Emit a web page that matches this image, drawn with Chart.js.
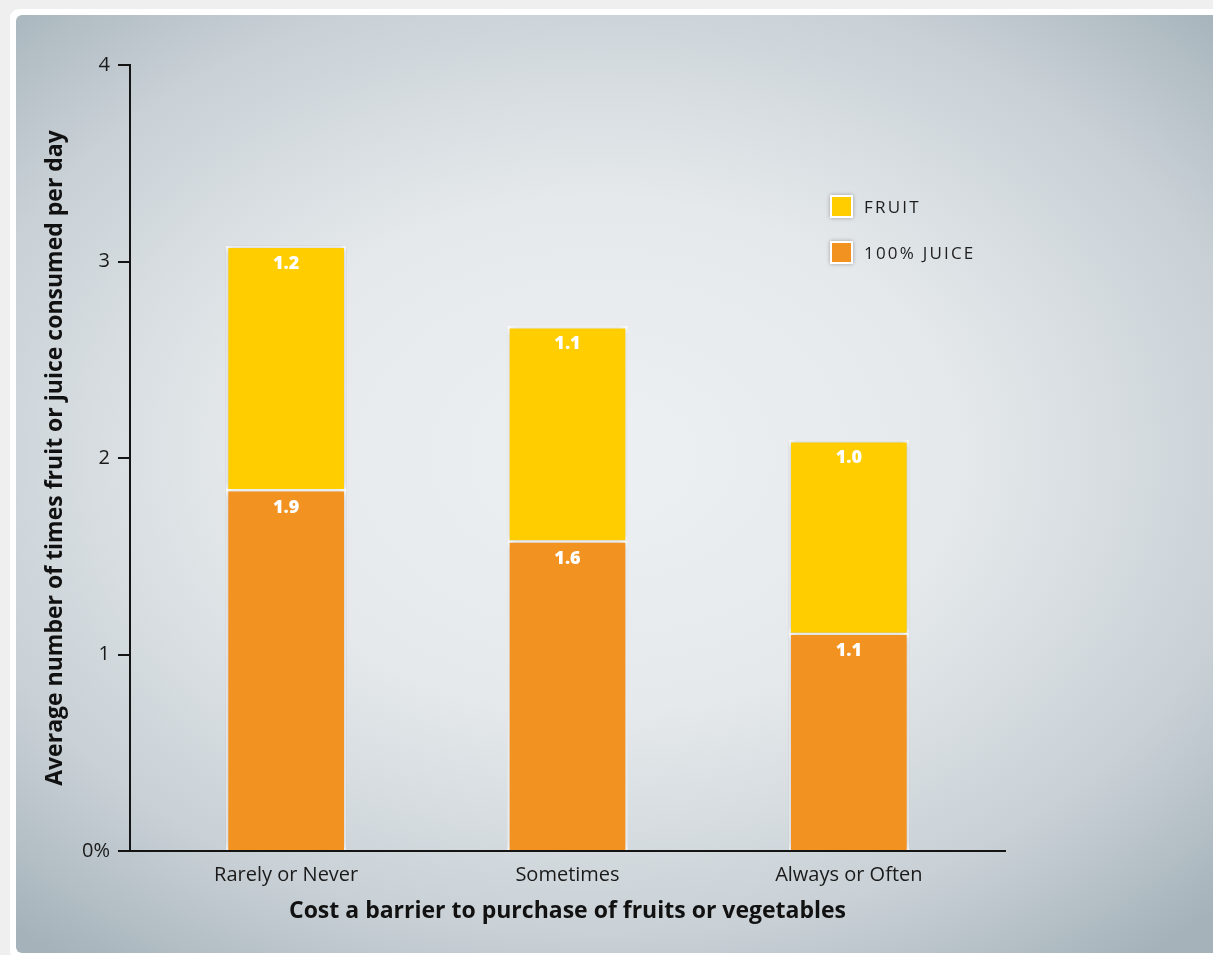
<!DOCTYPE html>
<html>
<head>
<meta charset="utf-8">
<script src="https://cdn.jsdelivr.net/npm/chart.js@4/dist/chart.umd.min.js"></script>
<style>
  html, body { margin: 0; padding: 0; }
  body { width: 1213px; height: 955px; overflow: hidden; background: #efefef; position: relative; font-family: "Open Sans", sans-serif; }
  #frame { position: absolute; left: 10px; top: 9px; width: 1230px; height: 951px; background: #fff; border-radius: 9px; }
  #panel {
    position: absolute; left: 16px; top: 15px; width: 1220px; height: 938px; border-radius: 6px;
    background: radial-gradient(ellipse 72% 68% at 48% 47%, #edf0f2 0%, #e5e9ec 40%, #c9d1d6 75%, #a5b2ba 100%);
  }
  #chartWrap { position: absolute; left: 0; top: 0; width: 1213px; height: 955px; }
  .legend { position: absolute; left: 830px; font-size: 17px; letter-spacing: 2.2px; color: #1e1e1e; display: flex; align-items: center; }
  .legend span.box { width: 19px; height: 19px; border: 2px solid #fff; box-shadow: 0 0 4px rgba(0,0,0,0.3); margin-right: 11px; }
</style>
</head>
<body>
<div id="frame"></div>
<div id="panel"></div>
<div id="chartWrap"><canvas id="chart" width="1213" height="955"></canvas></div>
<div class="legend" style="top:195px"><span class="box" style="background:#ffcd00"></span>FRUIT</div>
<div class="legend" style="top:241px"><span class="box" style="background:#f29220"></span>100% JUICE</div>
<script>
const categories = ["Rarely or Never", "Sometimes", "Always or Often"];
const juiceValues = [1.84, 1.58, 1.11];
const fruitValues = [1.24, 1.09, 0.98];
const juiceLabels = ["1.9", "1.6", "1.1"];
const fruitLabels = ["1.2", "1.1", "1.0"];
const yTicks = [0, 1, 2, 3, 4];

// white value text at the top of each segment
const segmentLabels = {
  id: "segmentLabels",
  afterDatasetsDraw(chart) {
    const ctx = chart.ctx;
    ctx.save();
    ctx.fillStyle = "#fff";
    ctx.font = "800 18px 'Open Sans'";
    ctx.textAlign = "center";
    ctx.textBaseline = "middle";
    chart.data.datasets.forEach((ds, i) => {
      chart.getDatasetMeta(i).data.forEach((bar, j) => {
        ctx.fillText(ds.valueText[j], bar.x, bar.y + 18);
      });
    });
    ctx.restore();
  }
};

const barShadow = {
  id: "barShadow",
  beforeDatasetsDraw(chart) {
    chart.ctx.save();
    chart.ctx.shadowColor = "rgba(60,70,80,0.4)";
    chart.ctx.shadowBlur = 7;
  },
  afterDatasetsDraw(chart) {
    chart.ctx.restore();
  }
};

new Chart(document.getElementById("chart"), {
  type: "bar",
  data: {
    datasets: [
      {
        label: "100% JUICE",
        data: juiceValues.map((v, i) => ({ x: i, y: v })),
        valueText: juiceLabels,
        backgroundColor: "#f29220",
        borderColor: "#fff",
        borderWidth: { left: 2.5, right: 2.5, top: 2.5, bottom: 0 },
        borderSkipped: false,
        barThickness: 120
      },
      {
        label: "FRUIT",
        data: fruitValues.map((v, i) => ({ x: i, y: v })),
        valueText: fruitLabels,
        backgroundColor: "#ffcd00",
        borderColor: "#fff",
        borderWidth: { left: 2.5, right: 2.5, top: 2.5, bottom: 0 },
        borderSkipped: false,
        barThickness: 120
      }
    ]
  },
  options: {
    responsive: false,
    animation: false,
    layout: { padding: { left: 20, top: 65, right: 208, bottom: 20 } },
    plugins: { legend: { display: false }, tooltip: { enabled: false } },
    scales: {
      x: {
        type: "linear",
        stacked: true,
        offset: false,
        min: -0.555,
        max: 2.555,
        afterBuildTicks: s => { s.ticks = categories.map((c, i) => ({ value: i })); },
        afterFit: s => { s.height = 84; },
        grid: { display: false },
        border: { color: "#141414", width: 2 },
        ticks: {
          callback: v => categories[v],
          color: "#1a1a1a",
          font: { family: "Open Sans", size: 20 },
          padding: 4,
          maxRotation: 0
        },
        title: {
          display: true,
          text: "Cost a barrier to purchase of fruits or vegetables",
          color: "#111",
          font: { family: "Open Sans", size: 23, weight: "bold" },
          padding: { top: 0, bottom: 10 }
        }
      },
      y: {
        stacked: true,
        min: 0,
        max: 4,
        afterBuildTicks: s => { s.ticks = yTicks.map(v => ({ value: v })); },
        afterFit: s => { s.width = 110; },
        grid: { drawOnChartArea: false, drawTicks: true, tickLength: 12, color: "#141414", lineWidth: 2 },
        border: { color: "#141414", width: 2 },
        ticks: {
          callback: v => (v === 0 ? "0%" : String(v)),
          color: "#1a1a1a",
          font: { family: "Open Sans", size: 20 },
          padding: 8
        },
        title: {
          display: true,
          text: "Average number of times fruit or juice consumed per day",
          color: "#111",
          font: { family: "Open Sans", size: 23, weight: "bold" },
          padding: { top: 22, bottom: 0 }
        }
      }
    }
  },
  plugins: [barShadow, segmentLabels]
});
</script>
</body>
</html>
